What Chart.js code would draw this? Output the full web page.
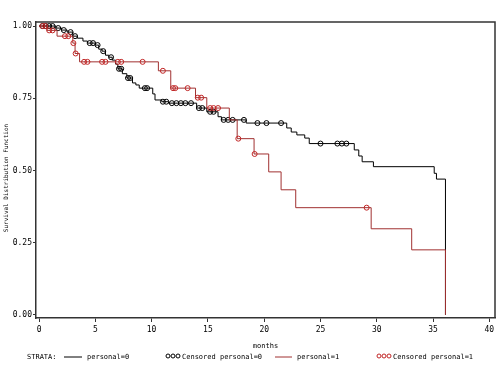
<!DOCTYPE html>
<html><head><meta charset="utf-8">
<script src="https://cdn.jsdelivr.net/npm/chart.js@4/dist/chart.umd.min.js"></script>
<style>html,body{margin:0;padding:0;background:#fff}#wrap{width:500px;height:375px;position:relative}</style>
</head><body><div id="wrap"><canvas id="c" width="500" height="375"></canvas></div>
<script>
const xTicks=[0,5,10,15,20,25,30,35,40];
const yTicks=[0,0.25,0.5,0.75,1];
const xTitle='months';
const yTitle='Survival Distribution Function';
const legendTitle='STRATA:';
const seriesNames=['personal=0','Censored personal=0','personal=1','Censored personal=1'];

// personal=0 : step times (months) and survival after step
const timeP0=[0,1.5,2.0,2.5,3.0,3.4,3.9,4.3,5.0,5.3,5.6,5.9,6.2,6.5,6.8,7.0,7.4,7.8,8.3,8.6,8.9,10.1,10.3,10.9,11.5,14.0,14.9,15.9,16.2,18.4,22.0,22.4,22.9,23.6,24.0,28.0,28.4,28.7,29.7,35.1,35.3,36.1];
const survP0=[1.0,0.993,0.986,0.979,0.965,0.958,0.948,0.941,0.934,0.920,0.913,0.899,0.892,0.882,0.868,0.852,0.835,0.820,0.803,0.796,0.785,0.765,0.744,0.738,0.733,0.716,0.703,0.686,0.675,0.664,0.647,0.633,0.623,0.612,0.593,0.571,0.550,0.530,0.513,0.490,0.470,0.0];
const censTimeP0=[0.3,0.6,0.9,1.2,1.7,2.2,2.8,3.2,4.5,4.8,5.2,5.7,6.4,7.1,7.3,7.9,8.1,9.4,9.6,11.0,11.3,11.8,12.2,12.6,13.0,13.5,14.2,14.5,15.2,15.5,16.4,16.8,17.2,18.2,19.4,20.2,21.5,25.0,26.5,26.9,27.3];

// personal=1
const timeP1=[0,0.7,1.6,3.0,3.2,3.6,10.6,11.7,13.9,14.9,16.9,17.6,19.1,20.4,21.5,22.8,29.5,33.1,36.1];
const survP1=[1.0,0.985,0.965,0.941,0.905,0.876,0.845,0.785,0.752,0.716,0.675,0.610,0.557,0.495,0.433,0.371,0.298,0.225,0.0];
const censTimeP1=[0.3,0.55,0.9,1.2,2.3,2.6,3.05,3.25,4.0,4.3,5.6,5.9,7.0,7.3,9.2,11.0,11.9,12.1,13.2,14.1,14.4,15.2,15.5,15.9,17.7,19.15,29.1];

const colP0='#000000', colP1='#a03030', colCens1='#c02525';

function stepVal(times, surv, t){let v=surv[0];for(let i=0;i<times.length;i++){if(times[i]<=t)v=surv[i];}return v;}
const lineP0=timeP0.map((t,i)=>({x:t,y:survP0[i]}));
const lineP1=timeP1.map((t,i)=>({x:t,y:survP1[i]}));
const censP0=censTimeP0.map(t=>({x:t,y:stepVal(timeP0,survP0,t)}));
const censP1=censTimeP1.map(t=>({x:t,y:stepVal(timeP1,survP1,t)}));

const FONT='"DejaVu Sans Mono", "Liberation Mono", monospace';
const extras={
  id:'extras',
  afterDraw(chart){
    const {ctx,chartArea:a}=chart;
    ctx.save();
    ctx.strokeStyle='#333';ctx.lineWidth=1.5;
    ctx.beginPath();ctx.moveTo(a.left,a.top);ctx.lineTo(a.right,a.top);ctx.lineTo(a.right,a.bottom);ctx.stroke();
    // y title
    ctx.fillStyle='#000';ctx.font='6px '+FONT;ctx.textAlign='center';ctx.textBaseline='middle';
    ctx.save();ctx.translate(6,178);ctx.rotate(-Math.PI/2);ctx.fillText(yTitle,0,0);ctx.restore();
    // x title
    ctx.font='7px '+FONT;
    ctx.fillText(xTitle,(a.left+a.right)/2,346);
    // legend
    const y=357;
    ctx.textAlign='left';
    ctx.fillText(legendTitle,27,y);
    ctx.strokeStyle=colP0;ctx.lineWidth=1;
    ctx.beginPath();ctx.moveTo(64,y);ctx.lineTo(82,y);ctx.stroke();
    ctx.fillText(seriesNames[0],87,y);
    [168,173,178].forEach(cx=>{ctx.beginPath();ctx.arc(cx,y-1,2,0,Math.PI*2);ctx.strokeStyle=colP0;ctx.stroke();});
    ctx.fillText(seriesNames[1],182,y);
    ctx.strokeStyle=colP1;ctx.beginPath();ctx.moveTo(275,y);ctx.lineTo(292,y);ctx.stroke();
    ctx.fillText(seriesNames[2],297,y);
    [379,384,389].forEach(cx=>{ctx.beginPath();ctx.arc(cx,y-1,2,0,Math.PI*2);ctx.strokeStyle=colCens1;ctx.stroke();});
    ctx.fillText(seriesNames[3],393,y);
    ctx.restore();
  }
};

new Chart(document.getElementById('c'),{
  data:{datasets:[
    {type:'line',label:seriesNames[0],data:lineP0,stepped:true,borderColor:colP0,borderWidth:1,pointRadius:0,fill:false,order:4},
    {type:'scatter',label:seriesNames[1],data:censP0,showLine:false,pointStyle:'circle',pointRadius:2.5,pointBorderWidth:1,pointBorderColor:colP0,pointBackgroundColor:'rgba(255,255,255,0)',order:3},
    {type:'line',label:seriesNames[2],data:lineP1,stepped:true,borderColor:colP1,borderWidth:1,pointRadius:0,fill:false,order:2},
    {type:'scatter',label:seriesNames[3],data:censP1,showLine:false,pointStyle:'circle',pointRadius:2.5,pointBorderWidth:1,pointBorderColor:colCens1,pointBackgroundColor:'rgba(255,255,255,0)',order:1}
  ]},
  options:{
    responsive:false,animation:false,
    layout:{padding:{top:22,right:4,left:0,bottom:0}},
    plugins:{legend:{display:false},tooltip:{enabled:false}},
    scales:{
      x:{type:'linear',min:-0.27,max:40.5,
        afterFit(s){s.height=57;},
        afterBuildTicks(s){s.ticks=xTicks.map(v=>({value:v}));},
        grid:{drawOnChartArea:false,tickLength:4,color:'#333'},
        border:{display:true,color:'#333',width:1.5},
        ticks:{font:{family:FONT,size:8},color:'#000',padding:3,maxRotation:0,callback:v=>String(v)}},
      y:{type:'linear',min:-0.011,max:1.014,
        afterFit(s){s.width=36;},
        afterBuildTicks(s){s.ticks=yTicks.map(v=>({value:v}));},
        grid:{drawOnChartArea:false,tickLength:3,color:'#333'},
        border:{display:true,color:'#333',width:1.5},
        ticks:{font:{family:FONT,size:8},color:'#000',padding:1,callback:v=>Number(v).toFixed(2)}}
    }
  },
  plugins:[extras]
});
</script></body></html>
